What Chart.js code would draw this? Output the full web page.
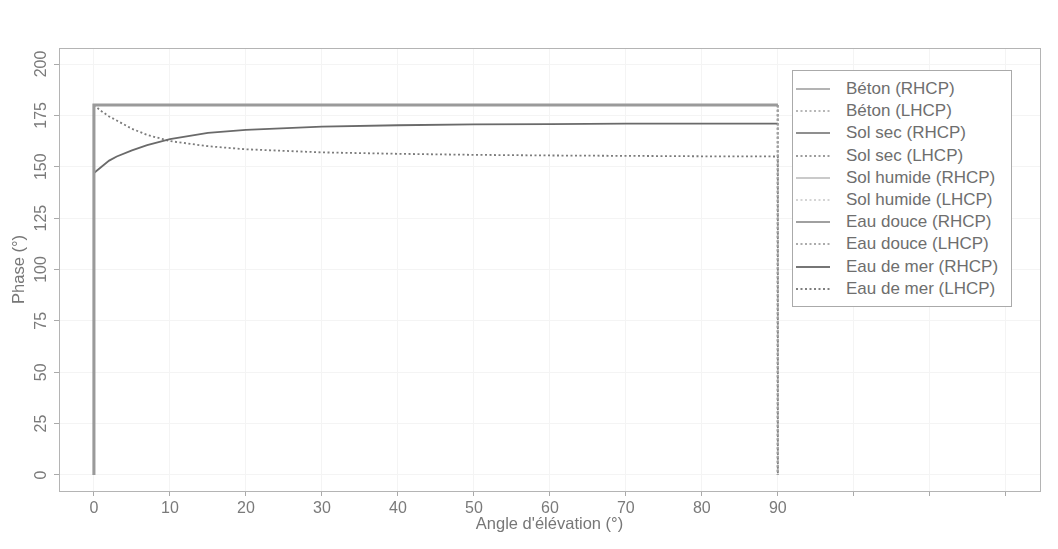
<!DOCTYPE html>
<html lang="fr">
<head>
<meta charset="utf-8">
<title>Phase en fonction de l'angle d'élévation</title>
<script src="https://cdn.jsdelivr.net/npm/chart.js@4.4.1/dist/chart.umd.min.js"></script>
<style>
  body { margin: 0; background: #fff; }
  #wrap { position: relative; width: 1058px; height: 549px; }
  #legend {
    position: absolute; left: 792px; top: 70px; width: 220px; height: 237px;
    box-sizing: border-box; border: 1px solid #aaa; padding-top: 7px; background: #fff;
    font-family: 'Liberation Sans', Arial, sans-serif; font-size: 17px; color: #6e6e6e;
  }
  .row { height: 22.2px; display: flex; align-items: center; }
  .row svg { margin-left: 3px; width: 34px; height: 6px; flex: none; }
  .row span { margin-left: 16px; white-space: nowrap; }
</style>
</head>
<body>
<div id="wrap">
  <canvas id="c" width="1058" height="549"></canvas>
  <div id="legend"></div>
</div>
<script>
// --- donnees ---
const elevation = [0, 0, 1, 2, 3, 5, 7, 10, 15, 20, 30, 40, 50, 60, 70, 80, 90, 90];

const betonRhcp     = [0, 180, 180, 180, 180, 180, 180, 180, 180, 180, 180, 180, 180, 180, 180, 180, 180, 180];
const betonLhcp     = [180, 180, 180, 180, 180, 180, 180, 180, 180, 180, 180, 180, 180, 180, 180, 180, 180, 0];
const solSecRhcp    = [0, 147, 150, 153, 155, 158, 160.5, 163.5, 166.5, 168, 169.5, 170.2, 170.6, 170.8, 171, 171, 171, 171];
const solSecLhcp    = [180, 180, 177, 174.5, 172.5, 168.5, 165.5, 162.5, 160, 158.5, 157, 156.3, 155.8, 155.5, 155.3, 155.1, 155, 0];
const solHumRhcp    = [0, 180, 180, 180, 180, 180, 180, 180, 180, 180, 180, 180, 180, 180, 180, 180, 180, 180];
const solHumLhcp    = [180, 180, 180, 180, 180, 180, 180, 180, 180, 180, 180, 180, 180, 180, 180, 180, 180, 0];
const eauDouceRhcp  = [0, 180, 180, 180, 180, 180, 180, 180, 180, 180, 180, 180, 180, 180, 180, 180, 180, 180];
const eauDouceLhcp  = [180, 180, 180, 180, 180, 180, 180, 180, 180, 180, 180, 180, 180, 180, 180, 180, 180, 0];
const eauMerRhcp    = [0, 180, 180, 180, 180, 180, 180, 180, 180, 180, 180, 180, 180, 180, 180, 180, 180, 180];
const eauMerLhcp    = [180, 180, 180, 180, 180, 180, 180, 180, 180, 180, 180, 180, 180, 180, 180, 180, 180, 0];

const seriesLabels = [
  'Béton (RHCP)', 'Béton (LHCP)', 'Sol sec (RHCP)', 'Sol sec (LHCP)',
  'Sol humide (RHCP)', 'Sol humide (LHCP)', 'Eau douce (RHCP)', 'Eau douce (LHCP)',
  'Eau de mer (RHCP)', 'Eau de mer (LHCP)'
];
const seriesValues = [betonRhcp, betonLhcp, solSecRhcp, solSecLhcp, solHumRhcp, solHumLhcp,
                      eauDouceRhcp, eauDouceLhcp, eauMerRhcp, eauMerLhcp];

const xTicks = [0, 10, 20, 30, 40, 50, 60, 70, 80, 90, 100, 110, 120];
const xLabelMax = 90;
const yTicks = [0, 25, 50, 75, 100, 125, 150, 175, 200];

// --- style ---
const greys = ['#9a9a9a', '#a0a0a0', '#6a6a6a', '#7c7c7c', '#b8b8b8', '#c6c6c6', '#808080', '#909090', '#484848', '#555555'];
const widths = [3, 2, 1.8, 1.8, 2, 2, 2, 2, 2, 2];
const FONT = "'Liberation Sans', Arial, sans-serif";

const datasets = seriesValues.map((vals, i) => ({
  label: seriesLabels[i],
  data: vals.map((v, k) => ({ x: elevation[k], y: v })),
  borderColor: greys[i],
  backgroundColor: 'transparent',
  borderWidth: widths[i],
  borderDash: i % 2 ? [2, 2.5] : [],
  pointRadius: 0,
  tension: 0
}));

const framePlugin = {
  id: 'frame',
  afterDraw(chart) {
    const { ctx, chartArea: a, scales: { y } } = chart;
    ctx.save();
    ctx.strokeStyle = '#b4b4b4';
    ctx.lineWidth = 1;
    ctx.strokeRect(a.left + 0.5, a.top + 0.5, a.right - a.left, a.bottom - a.top);
    // etiquettes Y verticales
    ctx.fillStyle = '#7a7a7a';
    ctx.font = '16px ' + FONT;
    ctx.textAlign = 'center';
    ctx.textBaseline = 'middle';
    yTicks.forEach(v => {
      ctx.save();
      ctx.translate(42, y.getPixelForValue(v));
      ctx.rotate(-Math.PI / 2);
      ctx.fillText(String(v), 0, 0);
      ctx.restore();
    });
    ctx.restore();
  }
};

const chart = new Chart(document.getElementById('c'), {
  type: 'line',
  data: { datasets },
  options: {
    responsive: false,
    animation: false,
    layout: { padding: { left: 0, top: 48, right: 18, bottom: 0 } },
    plugins: { legend: { display: false }, tooltip: { enabled: false } },
    scales: {
      x: {
        type: 'linear', min: -4.6, max: 124.5,
        afterBuildTicks: s => { s.ticks = xTicks.map(v => ({ value: v })); },
        afterFit: s => { s.height = 58; },
        ticks: {
          color: '#7a7a7a', font: { family: FONT, size: 16 }, padding: 3, maxRotation: 0, autoSkip: false,
          callback: v => (v <= xLabelMax ? String(v) : '')
        },
        grid: { color: '#f4f4f4', tickColor: '#aaa', tickLength: 5 },
        border: { display: false },
        title: { display: true, text: "Angle d'élévation (°)", color: '#777', font: { family: FONT, size: 16.5 }, padding: { top: 0, bottom: 15 } }
      },
      y: {
        type: 'linear', min: -7.8, max: 207.8,
        afterBuildTicks: s => { s.ticks = yTicks.map(v => ({ value: v })); },
        afterFit: s => { s.width = 59; },
        ticks: { display: false },
        grid: { color: '#f4f4f4', tickColor: '#aaa', tickLength: 5 },
        border: { display: false },
        title: { display: true, text: 'Phase (°)', color: '#777', font: { family: FONT, size: 16.5 }, padding: { top: 10, bottom: 0 } }
      }
    }
  },
  plugins: [framePlugin]
});

// legende HTML construite depuis les jeux de donnees
const legend = document.getElementById('legend');
chart.data.datasets.forEach(ds => {
  const row = document.createElement('div');
  row.className = 'row';
  const dash = ds.borderDash.length ? ` stroke-dasharray="${ds.borderDash.join(' ')}"` : '';
  row.innerHTML = `<svg viewBox="0 0 34 6"><line x1="0" y1="3" x2="34" y2="3" stroke="${ds.borderColor}" stroke-width="1.6"${dash}/></svg><span>${ds.label}</span>`;
  legend.appendChild(row);
});
</script>
</body>
</html>
